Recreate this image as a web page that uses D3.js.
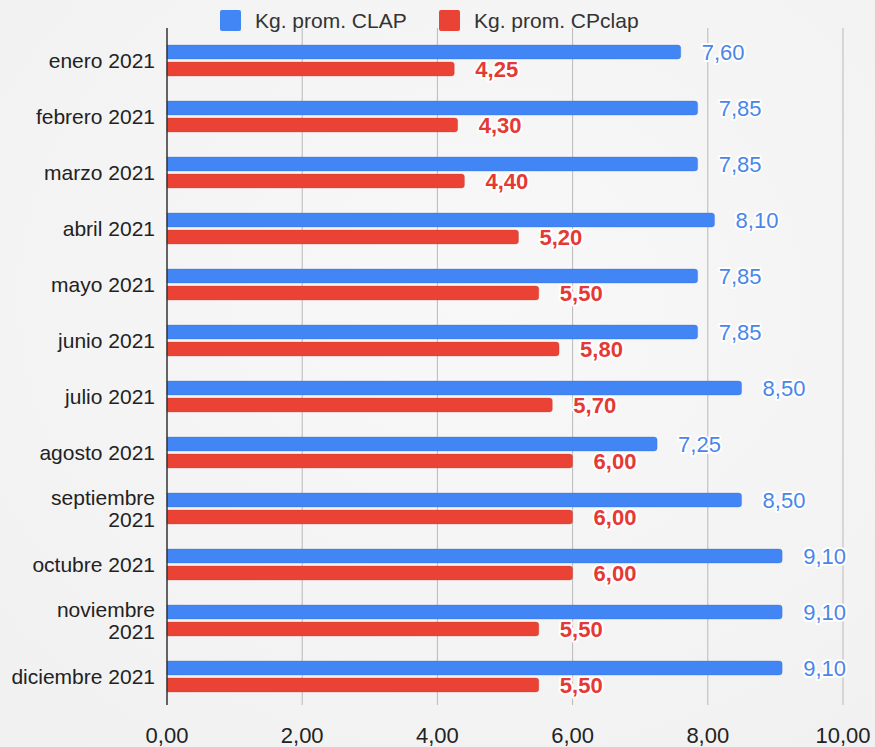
<!doctype html>
<html lang="es">
  <head>
    <meta charset="UTF-8" />
    <title>Kg. prom. CLAP vs CPclap 2021</title>
    <script src="https://unpkg.com/d3@7.9.0/dist/d3.min.js"></script>
    <style>
      body {
        margin: 0;
        overflow: hidden;
        font-family: 'Liberation Sans', Arial, sans-serif;
      }
      .grid line {
        stroke: #b9b9b9;
        stroke-width: 1;
      }
      .cat-label {
        font-size: 21px;
        fill: #222;
        text-anchor: end;
      }
      .tick-label {
        font-size: 22px;
        fill: #222;
        text-anchor: middle;
      }
      .legend text {
        font-size: 21px;
        fill: #333;
      }
      .value {
        font-size: 22px;
        paint-order: stroke;
        stroke: #fff;
        stroke-width: 4px;
        stroke-linejoin: round;
      }
    </style>
  </head>
  <body>
    <svg width="875" height="747"></svg>

    <script>
      // datos
      const months = [
        'enero 2021',
        'febrero 2021',
        'marzo 2021',
        'abril 2021',
        'mayo 2021',
        'junio 2021',
        'julio 2021',
        'agosto 2021',
        'septiembre 2021',
        'octubre 2021',
        'noviembre 2021',
        'diciembre 2021',
      ];
      const clap = [7.6, 7.85, 7.85, 8.1, 7.85, 7.85, 8.5, 7.25, 8.5, 9.1, 9.1, 9.1];
      const cpclap = [4.25, 4.3, 4.4, 5.2, 5.5, 5.8, 5.7, 6.0, 6.0, 6.0, 5.5, 5.5];
      const xTicks = [0, 2, 4, 6, 8, 10];
      const seriesNames = ['Kg. prom. CLAP', 'Kg. prom. CPclap'];
      const barColors = ['#4285f4', '#ea4335'];
      const labelColors = ['#4a86e8', '#e53935'];

      const svg = d3.select('svg'),
        width = +svg.attr('width'),
        height = +svg.attr('height');

      const margin = { top: 33, right: 32, bottom: 42, left: 167 };

      // fondo
      const defs = svg.append('defs');
      const grad = defs
        .append('radialGradient')
        .attr('id', 'bg')
        .attr('cx', '55%')
        .attr('cy', '40%')
        .attr('r', '75%');
      grad.append('stop').attr('offset', '0%').attr('stop-color', '#f8f8f8');
      grad.append('stop').attr('offset', '100%').attr('stop-color', '#f1f1f1');
      svg
        .append('rect')
        .attr('width', width)
        .attr('height', height)
        .attr('fill', 'url(#bg)');

      const x = d3
        .scaleLinear()
        .domain([0, 10])
        .range([margin.left, width - margin.right]);

      const y = d3
        .scaleBand()
        .domain(months)
        .range([margin.top, height - margin.bottom]);

      const fmt = (v) => d3.format('.2f')(v).replace('.', ',');

      // líneas de cuadrícula
      svg
        .append('g')
        .attr('class', 'grid')
        .selectAll('line')
        .data(xTicks.slice(1))
        .enter()
        .append('line')
        .attr('x1', (d) => x(d))
        .attr('x2', (d) => x(d))
        .attr('y1', 28)
        .attr('y2', height - margin.bottom);

      // etiquetas eje x
      svg
        .append('g')
        .selectAll('text')
        .data(xTicks)
        .enter()
        .append('text')
        .attr('class', 'tick-label')
        .attr('x', (d) => x(d))
        .attr('y', 743)
        .text(fmt);

      // barras
      const barH = 14;
      const series = [clap, cpclap];
      series.forEach((vals, s) => {
        const offset = s === 0 ? -16 : 1;
        const g = svg.append('g');
        g.selectAll('path')
          .data(months)
          .enter()
          .append('path')
          .attr('fill', barColors[s])
          .attr('stroke', d3.color(barColors[s]).darker(0.6))
          .attr('stroke-opacity', 0.35)
          .attr('stroke-width', 0.8)
          .attr('d', (m, i) => {
            const x0 = x(0),
              x1 = x(vals[i]),
              y0 = y(m) + y.bandwidth() / 2 + offset,
              r = 3;
            return `M${x0},${y0}H${x1 - r}Q${x1},${y0} ${x1},${y0 + r}V${y0 + barH - r}Q${x1},${y0 + barH} ${x1 - r},${y0 + barH}H${x0}Z`;
          });

        g.selectAll('text')
          .data(months)
          .enter()
          .append('text')
          .attr('class', 'value')
          .attr('fill', labelColors[s])
          .attr('font-weight', s === 1 ? 'bold' : 'normal')
          .attr('x', (m, i) => x(vals[i]) + 21)
          .attr('y', (m) => y(m) + y.bandwidth() / 2 + offset + barH / 2 + 8)
          .text((m, i) => fmt(vals[i]));
      });

      // eje base
      svg
        .append('line')
        .attr('x1', x(0))
        .attr('x2', x(0))
        .attr('y1', 28)
        .attr('y2', height - margin.bottom)
        .attr('stroke', '#333')
        .attr('stroke-width', 1.5);

      // etiquetas de categorías
      const catG = svg.append('g');
      months.forEach((m) => {
        const cy = y(m) + y.bandwidth() / 2;
        const lines =
          m.startsWith('septiembre') || m.startsWith('noviembre')
            ? m.split(' ')
            : [m];
        const t = catG
          .append('text')
          .attr('class', 'cat-label')
          .attr('x', 155);
        lines.forEach((ln, k) => {
          t.append('tspan')
            .attr('x', 155)
            .attr('y', cy + 7 + (k - (lines.length - 1) / 2) * 22)
            .text(ln);
        });
      });

      // leyenda
      const legend = svg.append('g').attr('class', 'legend');
      const legendX = [220, 439];
      seriesNames.forEach((name, i) => {
        const row = legend
          .append('g')
          .attr('transform', `translate(${legendX[i]},10)`);
        row
          .append('rect')
          .attr('width', 21)
          .attr('height', 21)
          .attr('rx', 2)
          .attr('fill', barColors[i]);
        row
          .append('text')
          .attr('x', 35)
          .attr('y', 18)
          .text(name);
      });
    </script>
  </body>
</html>
